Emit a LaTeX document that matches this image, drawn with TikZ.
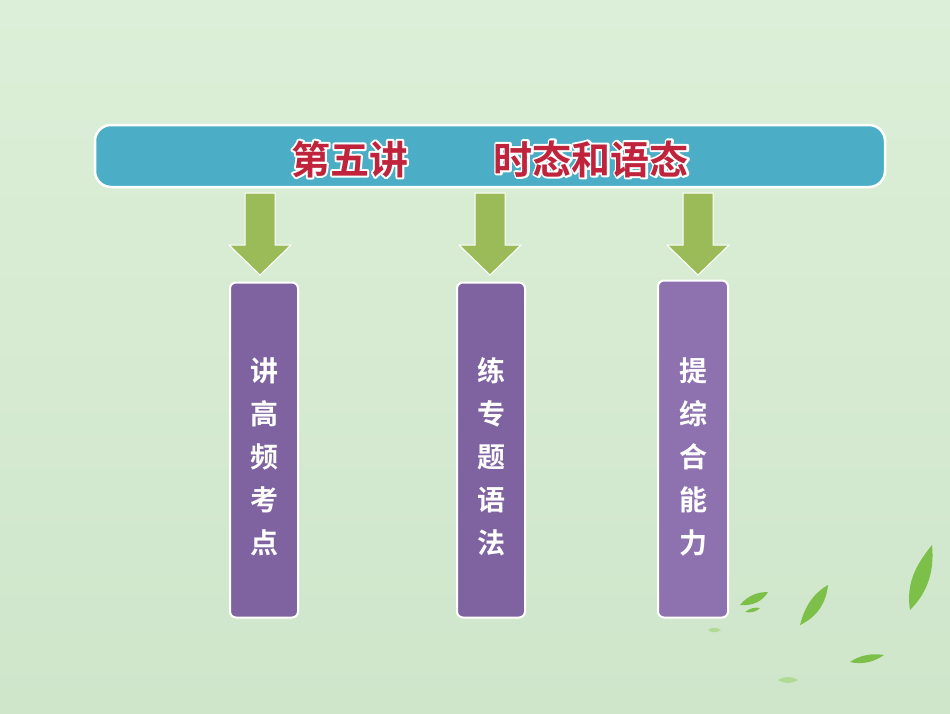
\documentclass[tikz,border=0pt]{standalone}
\usepackage{fontspec}
\newfontfamily\cjk{Noto Sans CJK SC}[BoldFont={* Bold}]
\definecolor{bgA}{HTML}{DCEFD8}
\definecolor{bgB}{HTML}{CFE6CB}
\definecolor{teal}{HTML}{4BADC6}
\definecolor{purp}{HTML}{7E63A0}
\definecolor{purp2}{HTML}{8E72B0}
\definecolor{arrg}{HTML}{9BBB59}
\definecolor{titr}{HTML}{C0243C}
\definecolor{leaf}{HTML}{7CC04A}
\tikzset{
 vbox/.style={draw=white,line width=2pt,fill=purp,rounded corners=6pt,minimum width=68pt,minimum height=335pt,inner sep=0pt},
 dnarrow/.style={fill=arrg,draw=white,line width=1pt},
 vtext/.style={text=white,font=\cjk\bfseries\fontsize{28}{43}\selectfont,align=center},
 ttext/.style={font=\cjk\bfseries\fontsize{39}{39}\selectfont},
 leafst/.style={fill=leaf,draw=none},
 leafpale/.style={fill=leaf!60,draw=none}
}
\newcommand{\ttlraw}{第五讲\hspace{2.2em}时态和语态}
\newcommand{\ttl}{\rlap{\special{pdf:literal 1 Tr 4 w 1 1 1 RG 1 j}\ttlraw\special{pdf:literal 0 Tr}}\ttlraw}
\begin{document}
\begin{tikzpicture}[x=1pt,y=-1pt]
\shade[top color=bgA,bottom color=bgB] (0,0) rectangle (950,713);
\useasboundingbox (0,0) rectangle (950,713);
\node[draw=white,line width=2.5pt,fill=teal,rounded corners=16pt,minimum width=790pt,minimum height=62pt] (title) at (490,156) {};
\node[ttext,text=titr] (tt) at (490,159) {\ttl};
\foreach \n/\x in {a/260,b/490,c/698}{
 \draw[dnarrow] (\x-15,193) -- (\x+15,193) -- (\x+15,245) -- (\x+31,245) -- (\x,275) -- (\x-31,245) -- (\x-15,245) -- cycle;
 \coordinate (arr\n) at (\x,275);
}
\node[vbox] (b1) at (264,450) {};
\node[vbox] (b2) at (491,450) {};
\node[vbox,fill=purp2,minimum width=70pt,minimum height=337pt] (b3) at (693,449) {};
\node[vtext] at (264,457) {讲\\高\\频\\考\\点};
\node[vtext] at (491,457) {练\\专\\题\\语\\法};
\node[vtext] at (693,457) {提\\综\\合\\能\\力};
% leaves
\fill[leafst] (910,610) .. controls (905,580) and (920,560) .. (932,545) .. controls (935,575) and (925,595) .. cycle;
\fill[leafst] (800,625) .. controls (805,605) and (815,592) .. (828,585) .. controls (826,605) and (815,618) .. cycle;
\fill[leafst] (740,605) .. controls (748,595) and (758,592) .. (768,592) .. controls (762,602) and (752,606) .. cycle;
\fill[leafst] (745,612) .. controls (750,608) and (755,607) .. (760,608) .. controls (756,612) and (751,613) .. cycle;
\fill[leafst] (850,662) .. controls (860,655) and (872,653) .. (884,655) .. controls (874,662) and (862,665) .. cycle;
\fill[leafpale] (778,680) .. controls (784,676) and (792,676) .. (798,680) .. controls (792,684) and (784,684) .. cycle;
\fill[leafpale] (708,630) .. controls (712,627) and (717,627) .. (721,630) .. controls (717,633) and (712,633) .. cycle;
\end{tikzpicture}
\end{document}
